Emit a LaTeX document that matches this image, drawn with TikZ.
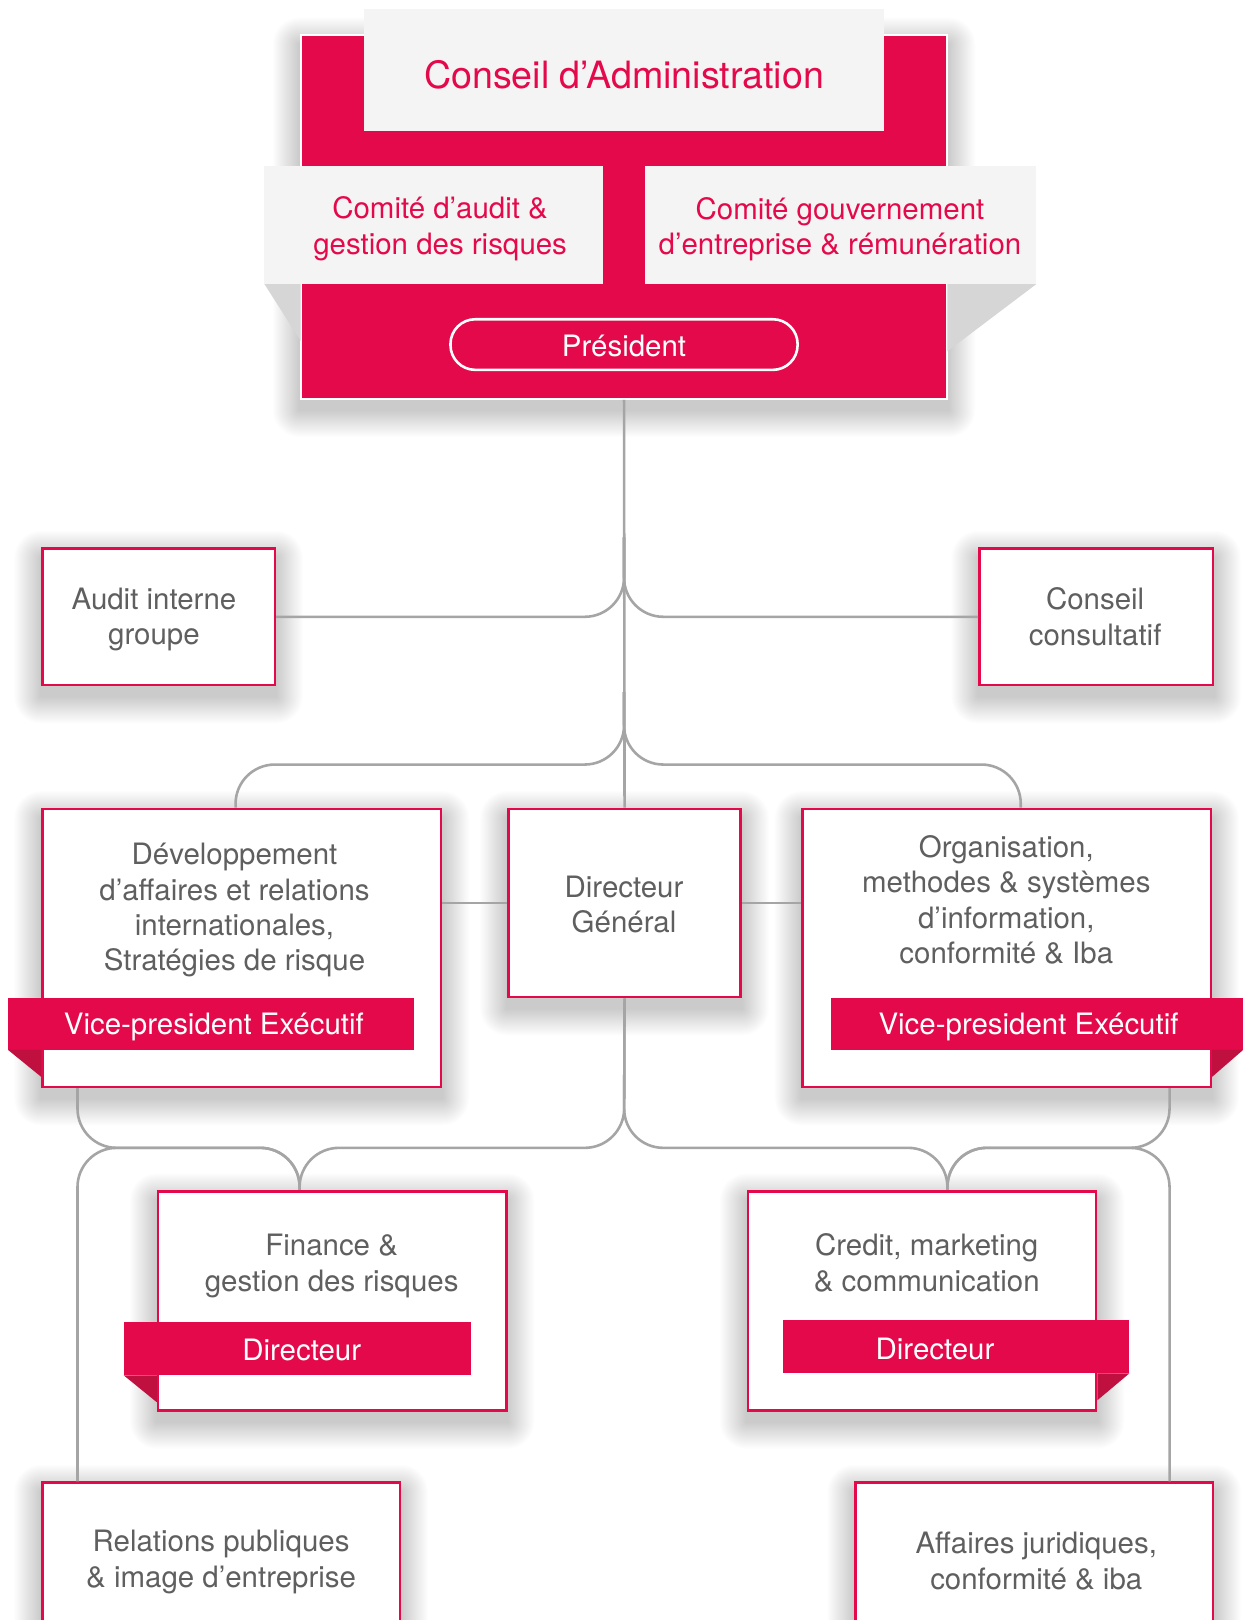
\documentclass[tikz,border=0pt]{standalone}
\usepackage{fontspec}
\setmainfont{TeX Gyre Heros}
\usetikzlibrary{calc}
\pgfdeclarelayer{bg}
\pgfsetlayers{bg,main}
\definecolor{crimson}{RGB}{228,9,74}
\definecolor{folddark}{RGB}{192,16,64}
\definecolor{panelgray}{RGB}{244,244,244}
\definecolor{foldgray}{RGB}{214,214,214}
\definecolor{linegray}{RGB}{165,165,165}
\definecolor{textgray}{RGB}{95,95,95}
\tikzset{
  conn/.style={draw=linegray, line width=2.5pt, rounded corners=38pt},
  box/.style={rectangle, draw=crimson, line width=2.5pt, fill=white, inner sep=0pt},
  bodyfont/.style={font=\fontsize{28.5}{34.3}\selectfont},
  txt/.style={bodyfont, text=textgray, align=center, inner sep=0pt},
  redtxt/.style={bodyfont, text=crimson, align=center, inner sep=0pt},
  ribbon/.style={rectangle, fill=crimson, inner sep=0pt},
  ribtxt/.style={bodyfont, text=white, inner sep=0pt},
  panel/.style={rectangle, fill=panelgray, inner sep=0pt},
  fold/.style={fill=folddark},
  grayfold/.style={fill=foldgray},
  shadowlayer/.style={fill=black, fill opacity=0.008},
}
\begin{document}
\begin{tikzpicture}[x=1pt,y=-1pt]
\useasboundingbox (0,0) rectangle (1203,1568);
\clip (0,0) rectangle (1203,1568);

% ---------- top block ----------
\node[rectangle, fill=crimson, draw=white, line width=2pt, minimum width=626pt, minimum height=352pt, inner sep=0pt] (board) at (604,210) {};
\fill[grayfold] (256,275) -- (291,275) -- (291,330) -- cycle;
\fill[grayfold] (1003,275) -- (917,275) -- (917,340) -- cycle;
\node[panel, minimum width=504pt, minimum height=118pt] (conseil) at (604,68) {};
\node[text=crimson, font=\fontsize{36.4}{43}\selectfont, inner sep=0pt] (conseiltxt) at (604,72) {Conseil d’Administration};
\node[panel, minimum width=328pt, minimum height=114pt] (comA) at (420,218) {};
\node[redtxt] (comAtxt) at (426,221.5) {Comité d’audit \&\\gestion des risques};
\node[panel, minimum width=379pt, minimum height=114pt] (comG) at (813.5,218) {};
\node[redtxt] (comGtxt) at (813,222) {Comité gouvernement\\d’entreprise \& rémunération};
\node[rectangle, draw=white, line width=2.5pt, rounded corners=24pt, minimum width=336pt, minimum height=49pt, inner sep=0pt] (pres) at (604,333.5) {};
\node[ribtxt] (prestxt) at (604,335) {Président};

% ---------- boxes ----------
\node[box, minimum width=225pt, minimum height=132pt] (audit) at (153.5,597) {};
\node[txt] (audittxt) at (149,599.5) {Audit interne\\groupe};
\node[box, minimum width=226pt, minimum height=132pt] (consult) at (1061,597) {};
\node[txt] (consulttxt) at (1060,597) {Conseil\\consultatif};

\node[box, minimum width=386pt, minimum height=269pt] (vpL) at (234,917.5) {};
\node[txt] (vpLtxt) at (227,881) {Développement\\d’affaires et relations\\internationales,\\Stratégies de risque};
\node[box, minimum width=225pt, minimum height=182pt] (dg) at (604.5,874) {};
\node[txt] (dgtxt) at (604,875.5) {Directeur\\Général};
\node[box, minimum width=395pt, minimum height=269pt] (vpR) at (974.5,917.5) {};
\node[txt] (vpRtxt) at (974,871) {Organisation,\\methodes \& systèmes\\d’information,\\conformité \& Iba};

\node[ribbon, minimum width=393pt, minimum height=50pt] (rbL) at (204.5,991) {};
\node[ribtxt] at ([xshift=2.5pt,yshift=-3pt]rbL.center) {Vice-president Exécutif};
\fill[fold] (rbL.south west) -- (rbL.south west -| vpL.west) -- ([yshift=-26pt]rbL.south west -| vpL.west) -- cycle;
\node[ribbon, minimum width=399pt, minimum height=50pt] (rbR) at (1003.5,991) {};
\node[ribtxt] at ([xshift=-8pt,yshift=-3pt]rbR.center) {Vice-president Exécutif};
\fill[fold] (rbR.south east) -- (rbR.south east -| vpR.east) -- ([yshift=-26pt]rbR.south east -| vpR.east) -- cycle;

\node[box, minimum width=337pt, minimum height=212pt] (fin) at (321.5,1259) {};
\node[txt] (fintxt) at (321,1225.5) {Finance \&\\gestion des risques};
\node[ribbon, minimum width=336pt, minimum height=51pt] (rbF) at (288,1305.5) {};
\node[ribtxt] at ([xshift=4pt,yshift=-1pt]rbF.center) {Directeur};
\fill[fold] (rbF.south west) -- (rbF.south west -| fin.west) -- ([yshift=-26pt]rbF.south west -| fin.west) -- cycle;

\node[box, minimum width=337pt, minimum height=212pt] (cred) at (892.5,1259) {};
\node[txt] (credtxt) at (897,1222.5) {Credit, marketing\\\& communication};
\node[ribbon, minimum width=335pt, minimum height=51pt] (rbC) at (925.5,1303.5) {};
\node[ribtxt] at ([xshift=-20.5pt,yshift=-2pt]rbC.center) {Directeur};
\fill[fold] (rbC.south east) -- (rbC.south east -| cred.east) -- ([yshift=-26pt]rbC.south east -| cred.east) -- cycle;

\node[box, minimum width=346pt, minimum height=205pt] (rel) at (214,1537.5) {};
\node[txt] (reltxt) at (214,1512) {Relations publiques\\\& image d’entreprise};
\node[box, minimum width=346pt, minimum height=205pt] (aff) at (1001,1537.5) {};
\node[txt] (afftxt) at (1003,1511) {Affaires juridiques,\\conformité \& iba};

% ---------- soft shadows ----------
\begin{pgfonlayer}{bg}
\fill[white] (0,0) rectangle (1203,1568);
\foreach \n in {board,audit,consult,vpL,dg,vpR,fin,cred,rel,aff}{
  \foreach \k in {1,...,26}{
    \fill[shadowlayer, rounded corners=\k pt] ([shift={(-\k,-\k+10)}]\n.north west) rectangle ([shift={(\k,\k+10)}]\n.south east);
  }
}
\end{pgfonlayer}

% ---------- connectors ----------
\coordinate (sp1) at (604,520);
\coordinate (j2) at (604,740);
\coordinate (sp2) at (604,670);
\coordinate (j3) at (604,1111);
\coordinate (j4) at (75,1111);
\coordinate (j5) at (1132,1111);
\coordinate (finTop) at ([xshift=-31.5pt]fin.north);
\coordinate (credTop) at ([xshift=24.5pt]cred.north);

\draw[conn] (board.south) -- (dg.north);
\draw[conn] (audit.east) -| (sp1);
\draw[conn] (consult.west) -| (sp1);
\draw[conn] ([xshift=-6pt]vpL.north) |- (j2) -- (sp2);
\draw[conn] ([xshift=13.5pt]vpR.north) |- (j2) -- (sp2);
\draw[conn] (dg.west) -- (dg.west -| vpL.east);
\draw[conn] (dg.east) -- (dg.east -| vpR.west);

\draw[conn] (dg.south) -- (j3) -- (j3 -| finTop) -- (finTop);
\draw[conn] (dg.south) -- (j3) -- (j3 -| credTop) -- (credTop);
\draw[conn] (vpL.south -| j4) -- (j4) -- (j4 -| finTop) -- (finTop);
\draw[conn] (rel.north -| j4) -- (j4) -- (j4 -| finTop) -- (finTop);
\draw[conn] (vpR.south -| j5) -- (j5) -- (j5 -| credTop) -- (credTop);
\draw[conn] (aff.north -| j5) -- (j5) -- (j5 -| credTop) -- (credTop);
\end{tikzpicture}
\end{document}
